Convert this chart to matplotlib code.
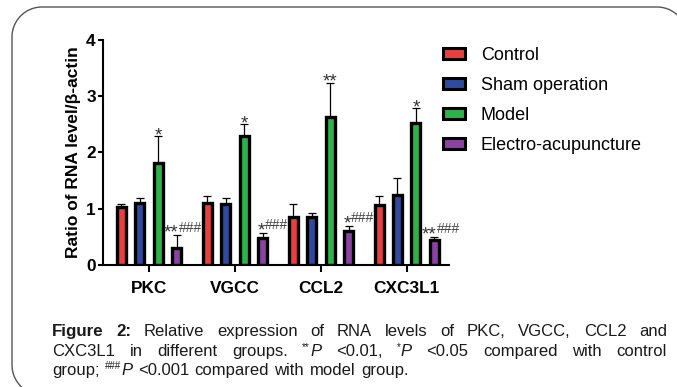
import matplotlib.pyplot as plt
import numpy as np
from matplotlib.patches import Patch, PathPatch
from matplotlib.path import Path
from matplotlib.transforms import IdentityTransform

genes = ["PKC", "VGCC", "CCL2", "CXC3L1"]
groups = ["Control", "Sham operation", "Model", "Electro-acupuncture"]
colors = ["#E8403F", "#2F4A9E", "#2EB24A", "#8B42A3"]

control = [1.03, 1.11, 0.85, 1.07]
control_err = [0.06, 0.11, 0.24, 0.16]
sham = [1.10, 1.08, 0.85, 1.25]
sham_err = [0.10, 0.12, 0.08, 0.29]
model = [1.82, 2.30, 2.63, 2.52]
model_err = [0.47, 0.20, 0.61, 0.27]
ea = [0.31, 0.49, 0.60, 0.44]
ea_err = [0.22, 0.08, 0.10, 0.06]

model_marks = ["*", "*", "**", "*"]
ea_marks = ["**", "*", "*", "**"]
ea_hash = ["###", "###", "###", "###"]

plt.rcParams["font.family"] = ["Liberation Sans", "DejaVu Sans"]

fig = plt.figure(figsize=(6.77, 3.87), dpi=100)
ax = fig.add_axes([0.152, 0.315, 0.511, 0.582])

x = np.arange(len(genes))
step = 0.215
width = 0.105
series = [(control, control_err), (sham, sham_err), (model, model_err), (ea, ea_err)]
for i, (vals, errs) in enumerate(series):
    xs = x + (i - 1.5) * step
    ax.errorbar(xs, vals, yerr=[np.zeros(len(vals)), errs], fmt="none",
                ecolor="black", elinewidth=0.9, capsize=3.2, capthick=0.9, zorder=1)
    ax.bar(xs, vals, width, color=colors[i], edgecolor="black", linewidth=2.4,
           label=groups[i], zorder=2)

# significance marks
for j in range(len(genes)):
    xm = x[j] + 0.5 * step
    ax.annotate(model_marks[j], (xm, model[j] + model_err[j]), xytext=(0, -3),
                textcoords="offset points", ha="center", va="baseline",
                fontsize=13.5, color="#333333")
    xe = x[j] + 1.5 * step
    ye = ea[j] + ea_err[j]
    ax.annotate(ea_marks[j], (xe, ye), xytext=(1.5, -1.8),
                textcoords="offset points", ha="right", va="baseline",
                fontsize=13.5, color="#333333")
    ax.annotate(ea_hash[j], (xe, ye), xytext=(1.5, 2.6),
                textcoords="offset points", ha="left", va="baseline",
                fontsize=10, color="#444444")

ax.set_xlim(-0.535, 3.49)
ax.set_ylim(0, 4)
ax.set_yticks([0, 1, 2, 3, 4])
ax.set_xticks(x)
ax.set_xticklabels(genes, fontsize=12.4, fontweight="bold")
ax.tick_params(axis="y", labelsize=12.4, width=1.5, length=3.6, pad=1.5)
ax.tick_params(axis="x", width=1.5, length=5, pad=6.5)
for lab in ax.get_yticklabels():
    lab.set_fontweight("bold")
for side in ["top", "right"]:
    ax.spines[side].set_visible(False)
for side in ["left", "bottom"]:
    ax.spines[side].set_linewidth(1.5)
ax.set_ylabel("Ratio of RNA level/β-actin", fontsize=12.5, fontweight="bold", labelpad=4)

handles = [Patch(facecolor=c, edgecolor="black", linewidth=2.2) for c in colors]
fig.legend(handles, groups, loc="upper left", bbox_to_anchor=(0.654, 0.878),
           frameon=False, fontsize=13, handlelength=1.25, handleheight=0.55,
           handletextpad=0.85, labelspacing=0.72, borderpad=0, borderaxespad=0)

# rounded frame: only its left, top and two corners fall inside the picture
r = 30.0
left, top, right, bottom = 12.0, 380.0, 687.0, -8.0
t = np.linspace(0, np.pi / 2, 30)
bl = np.column_stack([left + r - r * np.sin(t), bottom + r - r * np.cos(t)])[::-1]
tl = np.column_stack([left + r - r * np.cos(t), top - r + r * np.sin(t)])
tr = np.column_stack([right - r + r * np.sin(t), top - r + r * np.cos(t)])
verts = np.vstack([bl[::-1], tl, tr])
frame = PathPatch(Path(verts), transform=IdentityTransform(), fill=False,
                  edgecolor="#555555", linewidth=1.0, clip_on=False)
fig.add_artist(frame)

# caption, justified like the source
styles = {
    "b": dict(fontsize=12.2, fontweight="bold"),
    "n": dict(fontsize=12),
    "i": dict(fontsize=12, style="italic"),
    "s": dict(fontsize=7),
}
line1 = [[("Figure", "b")], [("2:", "b")], [("Relative", "n")], [("expression", "n")],
         [("of", "n")], [("RNA", "n")], [("levels", "n")], [("of", "n")], [("PKC,", "n")],
         [("VGCC,", "n")], [("CCL2", "n")], [("and", "n")]]
line2 = [[("CXC3L1", "n")], [("in", "n")], [("different", "n")], [("groups.", "n")],
         [("**", "s"), ("P", "i")], [("<0.01,", "n")], [("*", "s"), ("P", "i")],
         [("<0.05", "n")], [("compared", "n")], [("with", "n")], [("control", "n")]]
line3 = [[("group;", "n")], [("###", "s"), ("P", "i")], [("<0.001", "n")],
         [("compared", "n")], [("with", "n")], [("model", "n")], [("group.", "n")]]

renderer = fig.canvas.get_renderer()
left_px, right_px = 52, 667


def place_line(words, y, justify):
    built = []
    for word in words:
        parts = []
        for s, st in word:
            txt = fig.text(0, 0, s, transform=IdentityTransform(), va="baseline",
                           color="#1a1a1a", **styles[st])
            w = txt.get_window_extent(renderer).width
            parts.append((txt, w, st))
        built.append(parts)
    widths = [sum(p[1] for p in parts) for parts in built]
    if justify:
        gap = (right_px - left_px - sum(widths)) / (len(built) - 1)
    else:
        gap = 5.5
    cx = left_px
    for parts, w in zip(built, widths):
        px = cx
        for txt, pw, st in parts:
            txt.set_position((px, y + (6 if st == "s" else 0)))
            px += pw
        cx += w + gap


place_line(line1, 51, True)
place_line(line2, 31, True)
place_line(line3, 12, False)

fig.savefig("out.png", dpi=100)
